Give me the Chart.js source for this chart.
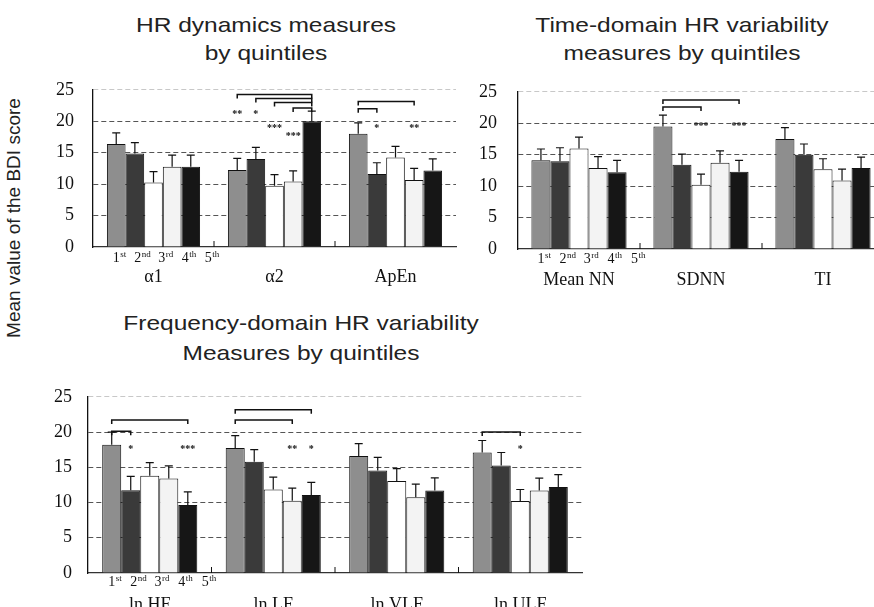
<!DOCTYPE html>
<html><head><meta charset="utf-8">
<script src="https://cdn.jsdelivr.net/npm/chart.js@4"></script>
<style>
html,body{margin:0;padding:0;width:874px;height:607px;overflow:hidden;background:#fff;position:relative;}
.t{position:absolute;font-family:"Liberation Sans",Arial,sans-serif;font-size:21px;color:#222;text-align:center;line-height:28px;white-space:nowrap;transform:translateX(-50%) scaleX(1.167);}
canvas{position:absolute;}
#ylab{position:absolute;left:14px;top:218px;transform:translate(-50%,-50%) rotate(-90deg);font-family:"Liberation Sans",Arial,sans-serif;font-size:19px;color:#222;white-space:nowrap;}
</style></head><body>
<div class="t" style="left:266px;top:11px">HR dynamics measures<br>by quintiles</div>
<div class="t" style="left:682px;top:11px">Time-domain HR variability<br>measures by quintiles</div>
<div class="t" style="left:301px;top:308px;line-height:30px">Frequency-domain HR variability<br>Measures by quintiles</div>
<div id="ylab">Mean value of the BDI score</div>
<canvas id="c1" width="420" height="240" style="left:40px;top:60px"></canvas>
<canvas id="c2" width="425" height="240" style="left:465px;top:60px"></canvas>
<canvas id="c3" width="560" height="250" style="left:35px;top:370px"></canvas>
<script>
// ---- data ----
const quintileLabels = ['1st','2nd','3rd','4th','5th'];
const quintileColors = ['#8e8e8e','#3a3a3a','#ffffff','#f3f3f3','#161616'];

const dynCategories = ['α1','α2','ApEn'];
const dynMeans = [
  [16.4,14.85,10.25,12.75,12.75],
  [12.25,14.0,9.75,10.4,20.0],
  [18.0,11.6,14.25,10.65,12.15]];
const dynErrTops = [
  [18.15,16.6,12.0,14.6,14.6],
  [14.1,15.85,11.5,12.1,21.6],
  [19.75,13.4,16.0,12.5,14.0]];
const dynBrackets = [[1,0,4,24.25],[1,1,4,23.6],[1,2,4,23.0],[1,3,4,22.1],[2,0,3,23.15],[2,0,1,22.0]];
const dynStars = [[1,0,'**',21.1],[1,1,'*',21.1],[1,2,'***',18.85],[1,3,'***',17.6],[2,1,'*',18.85],[2,3,'**',18.85]];

const timeCategories = ['Mean NN','SDNN','TI'];
const timeMeans = [
  [14.1,13.95,16.0,12.9,12.2],
  [19.5,13.4,10.2,13.7,12.3],
  [17.5,15.0,12.7,10.9,12.9]];
const timeErrTops = [
  [15.9,16.1,17.8,14.7,14.1],
  [21.3,15.1,11.9,15.6,14.1],
  [19.3,16.7,14.35,12.7,14.6]];
const timeBrackets = [[1,0,4,23.7],[1,0,2,22.6]];
const timeStars = [[1,2,'***',19.5],[1,4,'***',19.5]];

const freqCategories = ['ln HF','ln LF','ln VLF','ln ULF'];
const freqMeans = [
  [18.2,11.75,13.8,13.4,9.65],
  [17.75,15.8,11.85,10.25,11.05],
  [16.6,14.55,13.05,10.75,11.7],
  [17.1,15.25,10.2,11.7,12.2]];
const freqErrTops = [
  [20.0,13.7,15.65,15.2,11.5],
  [19.5,17.5,13.6,12.05,12.85],
  [18.35,16.4,14.8,12.6,13.5],
  [18.8,17.1,11.85,13.45,13.95]];
const freqBrackets = [[0,0,4,21.7],[0,0,1,20.1],[1,0,4,23.15],[1,0,3,21.7],[3,0,2,20.0]];
const freqStars = [[0,1,'*',17.6],[0,4,'***',17.6],[1,3,'**',17.6],[1,4,'*',17.6],[3,2,'*',17.5]];

const yTicks = [0,5,10,15,20,25];

// ---- decorations plugin ----
const decor = {
  id:'decor',
  afterDatasetsDraw(chart, args, o){
    const ctx = chart.ctx, ys = chart.scales.y, xs = chart.scales.x;
    const bar = (q,c) => chart.getDatasetMeta(q).data[c];
    ctx.save();
    ctx.strokeStyle = '#111'; ctx.fillStyle = '#111';
    ctx.lineWidth = 1.2;
    o.errs.forEach((row,c) => row.forEach((v,q) => {
      const b = bar(q,c), yp = ys.getPixelForValue(v);
      ctx.beginPath();
      ctx.moveTo(b.x, b.y); ctx.lineTo(b.x, yp);
      ctx.moveTo(b.x-4, yp); ctx.lineTo(b.x+4, yp);
      ctx.stroke();
    }));
    ctx.lineWidth = 1.5;
    o.brackets.forEach(([c,a,z,v]) => {
      const x1 = bar(a,c).x, x2 = bar(z,c).x, yp = ys.getPixelForValue(v);
      ctx.beginPath();
      ctx.moveTo(x1, yp+4); ctx.lineTo(x1, yp); ctx.lineTo(x2, yp); ctx.lineTo(x2, yp+4);
      ctx.stroke();
    });
    ctx.font = 'bold 10px "Liberation Serif", serif';
    ctx.textAlign = 'center'; ctx.textBaseline = 'middle';
    o.stars.forEach(([c,q,s,v]) => ctx.fillText(s, bar(q,c).x, ys.getPixelForValue(v)));
    ctx.lineWidth = 1;
    for (let i = 1; i < xs.ticks.length; i++) {
      const xp = (xs.getPixelForValue(i-1) + xs.getPixelForValue(i)) / 2;
      ctx.beginPath(); ctx.moveTo(xp, ys.bottom); ctx.lineTo(xp, ys.bottom - 6); ctx.stroke();
    }
    ctx.textAlign = 'left'; ctx.textBaseline = 'alphabetic';
    quintileLabels.forEach((lab, q) => {
      const num = lab[0], suf = lab.slice(1);
      ctx.font = '14px "Liberation Serif", serif';
      const w1 = ctx.measureText(num).width;
      ctx.font = '9px "Liberation Serif", serif';
      const w2 = ctx.measureText(suf).width;
      const cx = bar(q,0).x + q*4.5 + 3;
      const x0 = cx - (w1+w2)/2, base = ys.bottom + o.qOff + 5;
      ctx.font = '14px "Liberation Serif", serif';
      ctx.fillText(num, x0, base);
      ctx.font = '9px "Liberation Serif", serif';
      ctx.fillText(suf, x0 + w1 + 0.5, base - 5);
    });
    ctx.restore();
  }
};

function makeChart(id, cats, means, errs, brackets, stars, lay){
  const datasets = quintileLabels.map((lab,q) => ({
    label: lab,
    data: means.map(r => r[q]),
    backgroundColor: quintileColors[q],
    borderColor: '#111',
    borderWidth: 1,
    categoryPercentage: lay.cp,
    barPercentage: 1
  }));
  return new Chart(document.getElementById(id), {
    type: 'bar',
    data: { labels: cats, datasets },
    plugins: [decor],
    options: {
      responsive: false, animation: false, devicePixelRatio: 1,
      layout: { padding: { top: lay.top, right: lay.right, left: 0, bottom: 0 } },
      plugins: {
        legend: { display: false }, tooltip: { enabled: false },
        decor: { errs, brackets, stars, qOff: lay.qOff }
      },
      scales: {
        x: {
          grid: { display: false, drawTicks: false },
          border: { display: true, color: '#333', width: 1.2 },
          ticks: { color: '#111', font: { family: '"Liberation Serif", serif', size: 18 }, padding: lay.xpad, maxRotation: 0 },
          afterFit: s => { s.height = lay.xh; }
        },
        y: {
          min: 0, max: 25,
          afterBuildTicks: s => { s.ticks = yTicks.map(v => ({ value: v })); },
          grid: {
            drawTicks: false,
            color: c => c.tick.value === 0 ? 'rgba(0,0,0,0)' : (c.tick.value === 25 ? '#c8c8c8' : '#555'),
            lineWidth: 1
          },
          border: { display: true, color: '#111', width: 1.3, dash: [5,3] },
          ticks: { color: '#111', font: { family: '"Liberation Serif", serif', size: 18 }, padding: lay.ypad },
          afterFit: s => { s.width = 53; }
        }
      }
    }
  });
}

makeChart('c1', dynCategories, dynMeans, dynErrTops, dynBrackets, dynStars,
  { cp: 0.77, top: 20, right: 4, xh: 53, xpad: 19, ypad: 19, qOff: 10 });
makeChart('c2', timeCategories, timeMeans, timeErrTops, timeBrackets, timeStars,
  { cp: 0.78, top: 22, right: 6, xh: 51, xpad: 20, ypad: 21, qOff: 9 });
makeChart('c3', freqCategories, freqMeans, freqErrTops, freqBrackets, freqStars,
  { cp: 0.77, top: 13, right: 13, xh: 47, xpad: 21, ypad: 16, qOff: 8 });
</script>
</body></html>
